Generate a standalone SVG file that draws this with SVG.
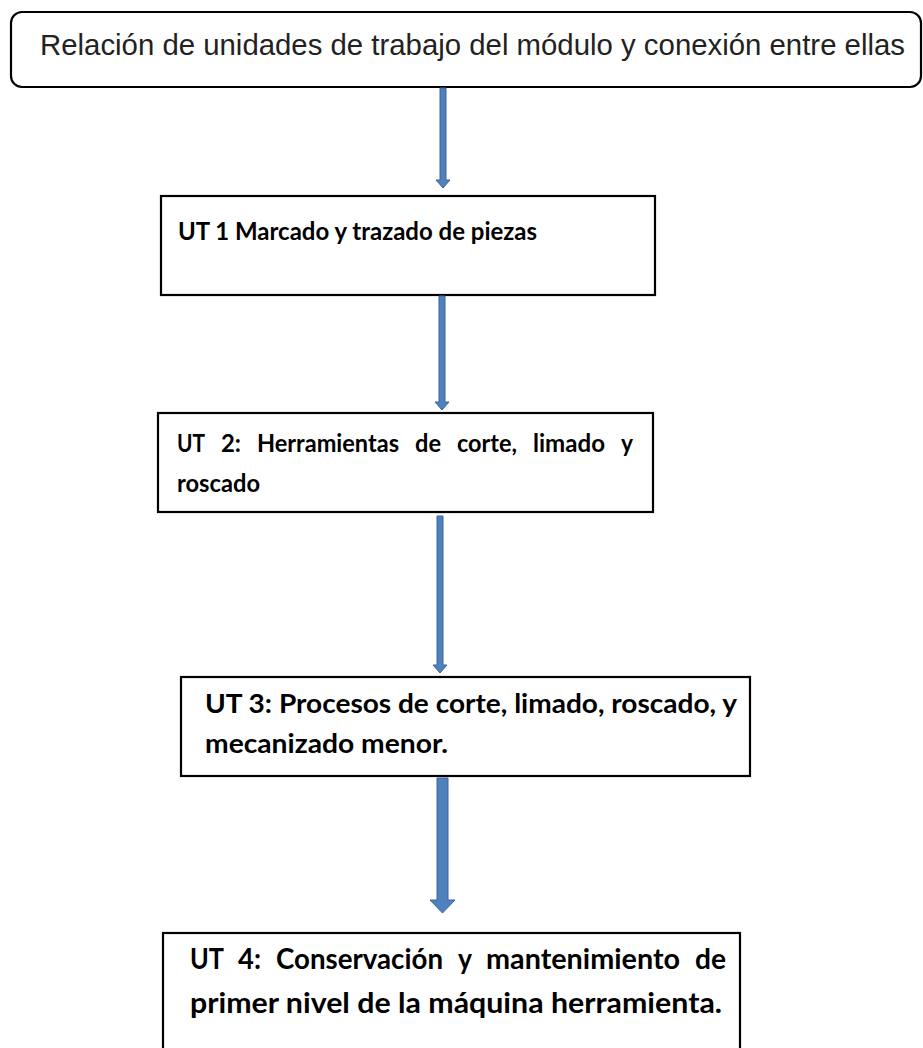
<svg xmlns="http://www.w3.org/2000/svg" width="923" height="1048" viewBox="0 0 923 1048">
<style>
.box{fill:#fff;stroke:#000;stroke-width:2.2}
.title{font-family:"Liberation Sans",Arial,sans-serif;font-size:29.4px;fill:#222}
.ut{font-family:Lato,"Liberation Sans",sans-serif;font-weight:700;fill:#000}
.arrow{fill:#4f81bd;stroke:#3a6596;stroke-width:1}
</style>
<rect width="923" height="1048" fill="#fff"/>
<g id="title">
<rect class="box" x="11" y="12" width="910" height="75" rx="11" ry="11" stroke-width="2"/>
<text class="title" x="40" y="55" textLength="865" lengthAdjust="spacingAndGlyphs">Relación de unidades de trabajo del módulo y conexión entre ellas</text>
</g>
<g id="ut1">
<rect class="box" x="161" y="196" width="494" height="99"/>
<text class="ut" x="178" y="240" font-size="25.5" textLength="359" lengthAdjust="spacingAndGlyphs">UT 1 Marcado y trazado de piezas</text>
</g>
<g id="ut2">
<rect class="box" x="158" y="413" width="495" height="99"/>
<g class="ut" font-size="25.5">
<text x="177" y="452" textLength="28" lengthAdjust="spacingAndGlyphs">UT</text>
<text x="221" y="452" textLength="20" lengthAdjust="spacingAndGlyphs">2:</text>
<text x="257" y="452" textLength="142" lengthAdjust="spacingAndGlyphs">Herramientas</text>
<text x="415" y="452" textLength="26" lengthAdjust="spacingAndGlyphs">de</text>
<text x="457" y="452" textLength="60" lengthAdjust="spacingAndGlyphs">corte,</text>
<text x="533" y="452" textLength="72" lengthAdjust="spacingAndGlyphs">limado</text>
<text x="621" y="452" textLength="12" lengthAdjust="spacingAndGlyphs">y</text>
<text x="177" y="492" textLength="83" lengthAdjust="spacingAndGlyphs">roscado</text>
</g>
</g>
<g id="ut3">
<rect class="box" x="181" y="677" width="569" height="99"/>
<text class="ut" x="205" y="713" font-size="27.5" textLength="532" lengthAdjust="spacingAndGlyphs">UT 3: Procesos de corte, limado, roscado, y</text>
<text class="ut" x="205" y="753" font-size="27.5" textLength="243" lengthAdjust="spacingAndGlyphs">mecanizado menor.</text>
</g>
<g id="ut4">
<rect class="box" x="163" y="933" width="577" height="125"/>
<g class="ut" font-size="28.5">
<text x="190" y="969" textLength="34" lengthAdjust="spacingAndGlyphs">UT</text>
<text x="238" y="969" textLength="23" lengthAdjust="spacingAndGlyphs">4:</text>
<text x="276" y="969" textLength="167" lengthAdjust="spacingAndGlyphs">Conservación</text>
<text x="458" y="969" textLength="14" lengthAdjust="spacingAndGlyphs">y</text>
<text x="486" y="969" textLength="194" lengthAdjust="spacingAndGlyphs">mantenimiento</text>
<text x="695" y="969" textLength="31" lengthAdjust="spacingAndGlyphs">de</text>
<text x="190" y="1013" textLength="532" lengthAdjust="spacingAndGlyphs">primer nivel de la máquina herramienta.</text>
</g>
</g>
<g id="connectors">
<path class="arrow" d="M440,88 H446 V180 H450 L443,188 L436,180 H440 Z"/>
<path class="arrow" d="M439,296 H445 V402 H449 L442,410 L435,402 H439 Z"/>
<path class="arrow" d="M437,516 H443 V665 H447 L440,673 L433,665 H437 Z"/>
<path class="arrow" d="M437,778 H448 V900 H455 L442.5,913 L430,900 H437 Z"/>
</g>
</svg>
